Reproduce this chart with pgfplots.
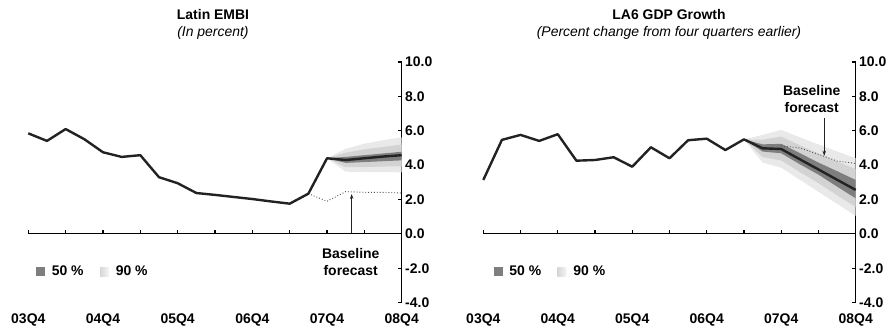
\documentclass[border=0pt]{standalone}
\usepackage{fontspec}
\setmainfont{Liberation Sans}
\usepackage{pgfplots}
\pgfplotsset{compat=1.18}
\usetikzlibrary{arrows.meta}

\definecolor{band50}{HTML}{7E7E7E}
\definecolor{band70}{HTML}{D3D3D3}
\definecolor{band90}{HTML}{E9E9E9}
\definecolor{lineblk}{HTML}{222222}

\newcommand{\tf}{\fontsize{14}{17}\selectfont}

\pgfplotsset{
 fanstyle/.style={
  scale only axis, height=240.7bp,
  xmin=0, xmax=20, ymin=-4, ymax=10,
  axis x line*=middle, axis y line*=right,
  hide obscured x ticks=false, hide obscured y ticks=false,
  xtick={0,2,...,20},
  xticklabels={03Q4,,04Q4,,05Q4,,06Q4,,07Q4,,08Q4},
  ytick={-4,-2,...,10},
  ytick align=inside, major tick length=4bp,
  axis line style={line width=1.1bp, black},
  every tick/.style={line width=1.1bp, black},
  major x tick style={draw=none},
  xticklabel style={anchor=center, yshift=-86bp, font=\tf\bfseries},
  yticklabel style={font=\tf\bfseries},
  /pgf/number format/fixed, /pgf/number format/fixed zerofill,
  /pgf/number format/precision=1, /pgf/number format/assume math mode=true,
  clip=false,
  legend style={draw=none, fill=none, legend columns=2, font=\tf\bfseries,
     inner sep=0pt, column sep=0pt, nodes={inner sep=0pt},
     /tikz/every even column/.style={column sep=0pt},
     /tikz/every odd column/.style={column sep=0pt}},
 },
 main/.style={forget plot, line width=2.4bp, color=lineblk, line join=round},
 base/.style={forget plot, line width=0.9bp, color=lineblk!80, dotted},
 b90/.style={forget plot, fill=band90, draw=none},
 b70/.style={forget plot, fill=band70, draw=none},
 b50/.style={forget plot, fill=band50, draw=none},
 leg50/.style={draw=none, legend image code/.code={\path[draw=none] (0bp,0bp) -- (15.7bp,0bp);\fill[band50, draw=none] (0bp,-4.5bp) rectangle (9bp,4.5bp);}},
 leg90/.style={draw=none, legend image code/.code={\path[draw=none] (0bp,0bp) -- (15.7bp,0bp);\path[draw=none, left color=gray!32, right color=gray!6] (0bp,-4.5bp) rectangle (9bp,4.5bp);}},
}

\begin{document}
\begin{tikzpicture}
\path[use as bounding box] (0,0) rectangle (895bp,329bp);

\node[font=\tf\bfseries] at (213bp,314bp) {Latin EMBI};
\node[font=\tf\itshape] at (213bp,296bp) {(In percent)};
\node[font=\tf\bfseries] at (669bp,314bp) {LA6 GDP Growth};
\node[font=\tf\itshape] at (669bp,296bp) {(Percent change from four quarters earlier)};

% ---------------- Left panel ----------------
\begin{axis}[fanstyle, width=373.4bp, at={(28.3bp,26.3bp)}, anchor=south west,
  legend style={at={(axis cs:0.41,-2.2)}, anchor=west}]
\addlegendimage{leg50}
\addlegendentry{50 \%\kern16.5bp}
\addlegendimage{leg90}
\addlegendentry{90 \%}

\draw[line width=1.1bp] (axis cs:0,0) -- (axis cs:20,0);
\pgfplotsinvokeforeach{0,2,...,20}{\draw[line width=1.1bp] (axis cs:#1,0) -- (axis cs:#1,0.23);}

\addplot[b90] coordinates {(16,4.40) (17,4.95) (18,5.25) (19,5.45) (20,5.62)
  (20,3.58) (19,3.60) (18,3.60) (17,3.62) (16,4.40)};
\addplot[b70] coordinates {(16,4.40) (17,4.72) (18,4.92) (19,5.06) (20,5.20)
  (20,3.93) (19,3.92) (18,3.89) (17,3.88) (16,4.40)};
\addplot[b50] coordinates {(16,4.40) (17,4.48) (18,4.58) (19,4.68) (20,4.78)
  (20,4.28) (19,4.23) (18,4.18) (17,4.13) (16,4.40)};

\addplot[base] coordinates {(15,2.34) (16,1.90) (17,2.46) (18,2.42) (19,2.42) (20,2.38)};

\addplot[main] coordinates {(0,5.85) (1,5.41) (2,6.10) (3,5.51) (4,4.75) (5,4.48)
  (6,4.58) (7,3.30) (8,2.95) (9,2.38) (10,2.27) (11,2.15) (12,2.03) (13,1.89)
  (14,1.76) (15,2.34) (16,4.40) (17,4.30) (18,4.40) (19,4.50) (20,4.58)};

\draw[-{Stealth[length=5bp,width=3.5bp]}, line width=0.6bp, lineblk] (axis cs:17.32,0.05) -- (axis cs:17.32,2.32);
\node[font=\tf\bfseries, align=center] at (axis cs:17.27,-1.65) {Baseline\\forecast};
\end{axis}

% ---------------- Right panel ----------------
\begin{axis}[fanstyle, width=372.4bp, at={(483.3bp,26.3bp)}, anchor=south west,
  legend style={at={(axis cs:0.55,-2.2)}, anchor=west}]
\addlegendimage{leg50}
\addlegendentry{50 \%\kern16.5bp}
\addlegendimage{leg90}
\addlegendentry{90 \%}

\draw[line width=1.1bp] (axis cs:0,0) -- (axis cs:20,0);
\pgfplotsinvokeforeach{0,2,...,20}{\draw[line width=1.1bp] (axis cs:#1,0) -- (axis cs:#1,0.23);}

\addplot[b90] coordinates {(14,5.50) (15,5.76) (16,6.05) (17,5.62) (18,5.20) (19,4.80) (20,4.40)
  (20,1.05) (19,1.75) (18,2.45) (17,3.15) (16,3.85) (15,4.15) (14,5.50)};
\addplot[b70] coordinates {(14,5.50) (15,5.48) (16,5.66) (17,5.16) (18,4.68) (19,4.22) (20,3.77)
  (20,1.56) (19,2.25) (18,2.95) (17,3.60) (16,4.27) (15,4.47) (14,5.50)};
\addplot[b50] coordinates {(14,5.50) (15,5.21) (16,5.24) (17,4.70) (18,4.15) (19,3.65) (20,3.14)
  (20,2.07) (19,2.75) (18,3.45) (17,4.05) (16,4.69) (15,4.79) (14,5.50)};

\addplot[base] coordinates {(16,5.12) (17,5.00) (18,4.63) (19,4.24) (20,4.10)};

\addplot[main] coordinates {(0,3.14) (1,5.47) (2,5.76) (3,5.41) (4,5.80) (5,4.26)
  (6,4.30) (7,4.46) (8,3.91) (9,5.04) (10,4.40) (11,5.45) (12,5.54) (13,4.88)
  (14,5.50) (15,4.98) (16,4.94) (17,4.34) (18,3.75) (19,3.15) (20,2.56)};

\draw[-{Stealth[length=5bp,width=3.5bp]}, line width=0.6bp, lineblk] (axis cs:18.31,6.74) -- (axis cs:18.31,4.55);
\node[font=\tf\bfseries, align=center] at (axis cs:17.64,7.87) {Baseline\\forecast};
\end{axis}
\end{tikzpicture}
\end{document}
